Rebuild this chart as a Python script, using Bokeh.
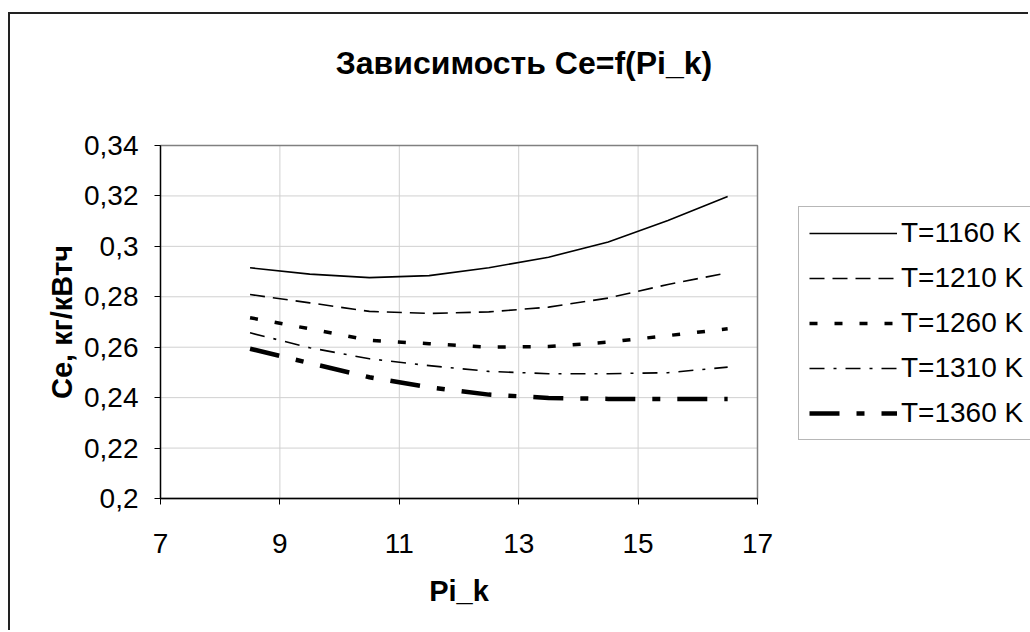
import math
from bokeh.plotting import figure
from bokeh.models import (Legend, LegendItem, FixedTicker, Range1d, Label)
from bokeh.embed import file_html
from bokeh.resources import INLINE

# ---- data ----
pi_k = [8.5, 9.5, 10.5, 11.5, 12.5, 13.5, 14.5, 15.5, 16.5]
ce_1160 = [0.2915, 0.2890, 0.2876, 0.2884, 0.2915, 0.2957, 0.3017, 0.3103, 0.3198]
ce_1210 = [0.2809, 0.2776, 0.2742, 0.2734, 0.2740, 0.2759, 0.2795, 0.2849, 0.2895]
ce_1260 = [0.2717, 0.2673, 0.2627, 0.2614, 0.2600, 0.2603, 0.2620, 0.2646, 0.2673]
ce_1310 = [0.2657, 0.2598, 0.2554, 0.2527, 0.2504, 0.2495, 0.2495, 0.2499, 0.2521]
ce_1360 = [0.2594, 0.2537, 0.2481, 0.2441, 0.2412, 0.2399, 0.2395, 0.2395, 0.2395]
series_names = ["T=1160 K", "T=1210 K", "T=1260 K", "T=1310 K", "T=1360 K"]

x_ticks = [7, 9, 11, 13, 15, 17]
y_ticks = [0.2, 0.22, 0.24, 0.26, 0.28, 0.3, 0.32, 0.34]
y_tick_labels = ["0,2", "0,22", "0,24", "0,26", "0,28", "0,3", "0,32", "0,34"]
title_text = "Зависимость Ce=f(Pi_k)"
x_title = "Pi_k"
y_title = "Ce, кг/кВтч"

FONT = "Liberation Sans"

# ---- layout (page pixels) ----
OFF_X, OFF_Y = 10, 14          # outer chart border drawn with CSS
AREA_L, AREA_R = 160, 757      # plot area left/right (x = 7 .. 17)
AREA_T, AREA_B = 145, 498      # plot area top/bottom (y = 0.34 .. 0.2)
W, H = 1030, 632

x0, x1 = x_ticks[0], x_ticks[-1]
y0, y1 = y_ticks[0], y_ticks[-1]
ux = (x1 - x0) / (AREA_R - AREA_L)   # data units per pixel
uy = (y1 - y0) / (AREA_B - AREA_T)

p = figure(width=W - OFF_X, height=H - OFF_Y, output_backend="svg", toolbar_location=None,
           x_range=Range1d(x0 - (AREA_L - OFF_X) * ux, x0 + (W - AREA_L) * ux),
           y_range=Range1d(y0 - (H - AREA_B) * uy, y0 + (AREA_B - OFF_Y) * uy),
           min_border_left=0, min_border_right=0, min_border_top=0, min_border_bottom=0)
p.styles = {"margin-left": "8px", "margin-top": "12px",
            "border-left": "2px solid #222222", "border-top": "2px solid #222222"}
p.background_fill_color = "white"
p.border_fill_color = "white"
p.outline_line_color = None
p.xgrid.visible = False
p.ygrid.visible = False

# axes fixed at the plot-area edges
for ax in (p.xaxis[0], p.yaxis[0]):
    ax.axis_line_color = "black"
    ax.axis_line_width = 1.3
    ax.major_tick_line_color = "black"
    ax.major_tick_in = 0
    ax.major_tick_out = 6
    ax.minor_tick_line_color = None
    ax.major_label_text_font = FONT
    ax.major_label_text_font_size = "28px"
    ax.major_label_text_color = "black"

p.xaxis.fixed_location = y0
p.yaxis.fixed_location = x0
p.xaxis.bounds = (x0, x1)
p.yaxis.bounds = (y0, y1)
p.xaxis.ticker = FixedTicker(ticks=x_ticks)
p.yaxis.ticker = FixedTicker(ticks=y_ticks)
p.yaxis.major_label_overrides = dict(zip(y_ticks, y_tick_labels))
p.xaxis.major_label_standoff = 29
p.yaxis.major_label_standoff = 16

# grid lines inside plot area only
p.segment(x0=[x0] * len(y_ticks), x1=[x1] * len(y_ticks), y0=y_ticks, y1=y_ticks,
          line_color="#d0d0d0", line_width=1)
p.segment(x0=x_ticks, x1=x_ticks, y0=[y0] * len(x_ticks), y1=[y1] * len(x_ticks),
          line_color="#d0d0d0", line_width=1)
# plot area border
p.quad(left=[x0], right=[x1], bottom=[y0], top=[y1], fill_color=None,
       line_color="#808080", line_width=1.5)

styles = [
    dict(line_width=1.6, line_dash="solid"),
    dict(line_width=1.6, line_dash="15 8"),
    dict(line_width=3.5, line_dash="8 17"),
    dict(line_width=1.6, line_dash="15 9 3 9"),
    dict(line_width=4.5, line_dash="30 17 8 17"),
]
series = [ce_1160, ce_1210, ce_1260, ce_1310, ce_1360]

items = []
for name, ys, st in zip(series_names, series, styles):
    r = p.line(pi_k, ys, line_color="black", line_join="miter", line_cap="butt", **st)
    items.append(LegendItem(label=name, renderers=[r]))

legend = Legend(items=items, location=(798 - OFF_X, H - 440),
                label_text_font=FONT, label_text_font_size="28px",
                label_text_color="black",
                glyph_width=88, glyph_height=28, label_height=28,
                label_standoff=4, spacing=13, padding=10, margin=0,
                border_line_color="#707070", border_line_width=1.5,
                background_fill_color="white", background_fill_alpha=1.0)
p.add_layout(legend, "center")

title = Label(x=(x0 + x1) / 2, y=y1, x_offset=65, y_offset=AREA_T - 62,
              text=title_text, text_align="center", text_baseline="middle",
              text_font=FONT, text_font_size="32px", text_font_style="bold",
              text_color="black")
p.add_layout(title)

xlab = Label(x=(x0 + x1) / 2, y=y0, y_offset=-(590 - AREA_B),
             text=x_title, text_align="center", text_baseline="middle",
             text_font=FONT, text_font_size="29px", text_font_style="bold",
             text_color="black")
p.add_layout(xlab)

ylab = Label(x=x0, y=(y0 + y1) / 2, x_offset=-(AREA_L - 61), angle=math.pi / 2,
             text=y_title, text_align="center", text_baseline="middle",
             text_font=FONT, text_font_size="29px", text_font_style="bold",
             text_color="black")
p.add_layout(ylab)

open("out.html", "w").write(file_html(p, INLINE))
